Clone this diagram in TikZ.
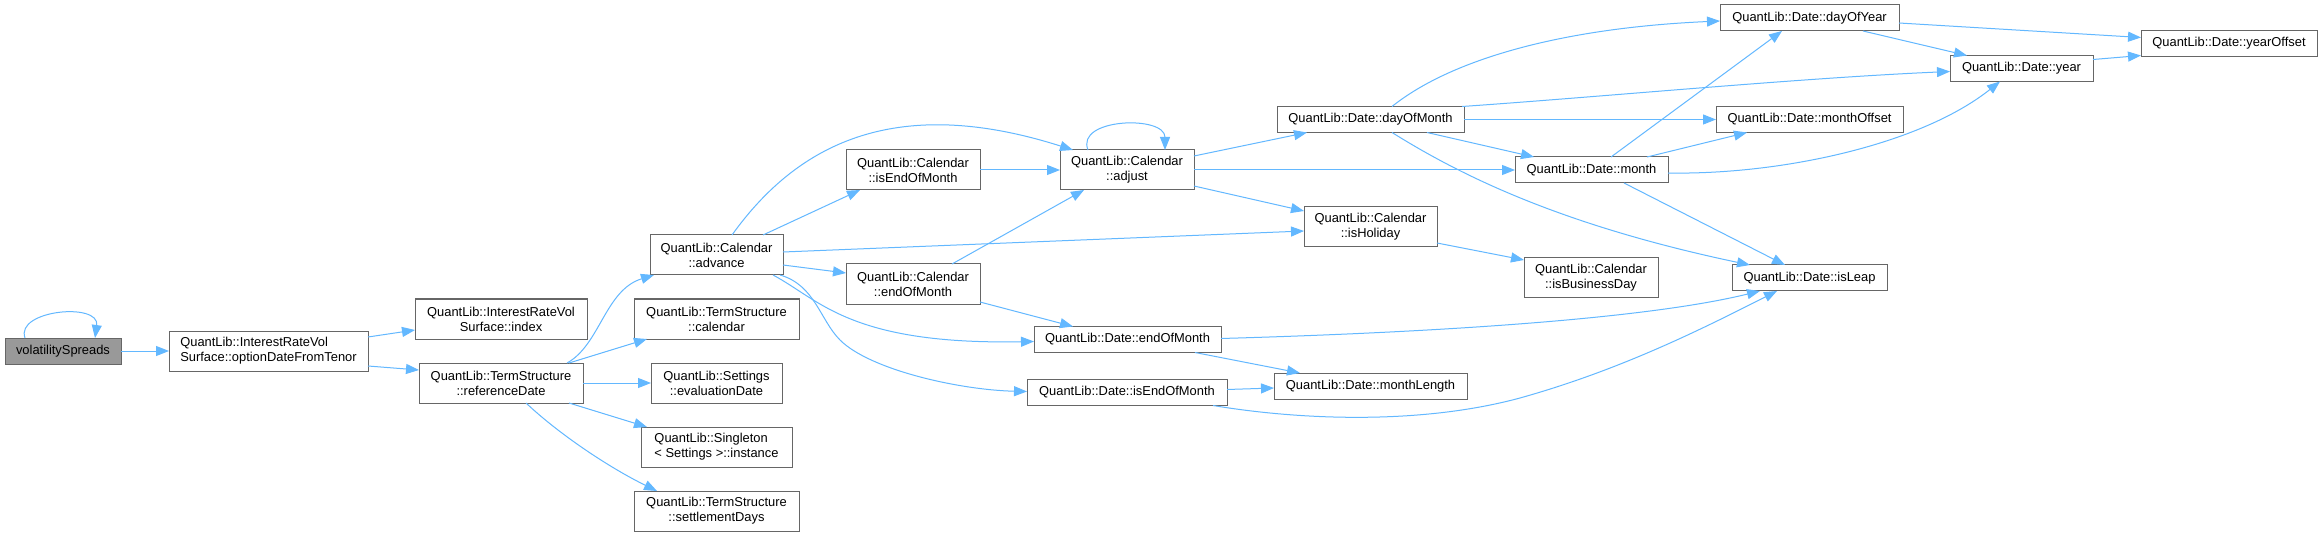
\documentclass[tikz,border=0pt]{standalone}
\usepackage{fontspec}
\setmainfont{Liberation Sans}
\usetikzlibrary{arrows.meta}
\definecolor{edgeblue}{HTML}{63B8FF}
\definecolor{boxgray}{HTML}{666666}
\definecolor{hlfill}{HTML}{999999}
\tikzset{
  box/.style={draw=boxgray, fill=white, line width=1pt, rectangle, inner sep=0pt, outer sep=0pt,
    align=center, font=\fontsize{12.9pt}{15pt}\selectfont},
  lbox/.style={box, align=left},
  hlbox/.style={box, fill=hlfill},
  one/.style={minimum height=26pt},
  two/.style={minimum height=40pt},
  edge/.style={draw=edgeblue, line width=1pt, -{Triangle[length=13pt,width=10pt]}, fill=none}
}
\begin{document}
\begin{tikzpicture}[x=1pt,y=-1pt]
\fill[white] (0,0) rectangle (2323,537);
\useasboundingbox (0,0) rectangle (2323,537);

% nodes
\node[hlbox, one, minimum width=116pt] (vs) at (63,351) {volatilitySpreads};
\node[lbox, two, minimum width=199pt] (opt) at (268.5,351) {QuantLib::InterestRateVol\\Surface::optionDateFromTenor};
\node[box, two, minimum width=172pt] (index) at (501,319) {QuantLib::InterestRateVol\\Surface::index};
\node[box, two, minimum width=164pt] (ref) at (501,383) {QuantLib::TermStructure\\::referenceDate};
\node[box, two, minimum width=133pt] (adv) at (716.5,255) {QuantLib::Calendar\\::advance};
\node[box, two, minimum width=165pt] (tscal) at (716.5,319) {QuantLib::TermStructure\\::calendar};
\node[box, two, minimum width=131pt] (eval) at (716.5,383) {QuantLib::Settings\\::evaluationDate};
\node[lbox, two, minimum width=151pt] (single) at (716.5,447) {QuantLib::Singleton\\< Settings >::instance};
\node[box, two, minimum width=165pt] (settle) at (716.5,511) {QuantLib::TermStructure\\::settlementDays};
\node[box, two, minimum width=134pt] (calIsEOM) at (913,170) {QuantLib::Calendar\\::isEndOfMonth};
\node[box, two, minimum width=134pt] (calEOM) at (913,284) {QuantLib::Calendar\\::endOfMonth};
\node[box, two, minimum width=134pt] (adjust) at (1127,170) {QuantLib::Calendar\\::adjust};
\node[box, one, minimum width=187pt] (dEOM) at (1127.5,339.5) {QuantLib::Date::endOfMonth};
\node[box, one, minimum width=200pt] (dIsEOM) at (1127,392.5) {QuantLib::Date::isEndOfMonth};
\node[box, one, minimum width=187pt] (dom) at (1370.5,119.5) {QuantLib::Date::dayOfMonth};
\node[box, two, minimum width=133pt] (isHol) at (1370.5,227) {QuantLib::Calendar\\::isHoliday};
\node[box, one, minimum width=193pt] (mlen) at (1370.5,386) {QuantLib::Date::monthLength};
\node[box, one, minimum width=153pt] (month) at (1591.5,170) {QuantLib::Date::month};
\node[box, two, minimum width=134pt] (isBD) at (1591,278) {QuantLib::Calendar\\::isBusinessDay};
\node[box, one, minimum width=179pt] (doy) at (1809.5,18) {QuantLib::Date::dayOfYear};
\node[box, one, minimum width=187pt] (moff) at (1809.5,119.5) {QuantLib::Date::monthOffset};
\node[box, one, minimum width=155pt] (isLeap) at (1809.5,278) {QuantLib::Date::isLeap};
\node[box, one, minimum width=143pt] (year) at (2021.5,68.5) {QuantLib::Date::year};
\node[box, one, minimum width=176pt] (yoff) at (2229,43.5) {QuantLib::Date::yearOffset};

% edges
\draw[edge] ([shift={(20,0)}]vs.north west) .. controls (15,310) and (100,302) .. ([shift={(90,0)}]vs.north west);
\draw[edge] (vs) -- (opt);
\draw[edge] ([shift={(0,6)}]opt.north east) -- ([shift={(0,31)}]index.north west);
\draw[edge] ([shift={(0,35)}]opt.north east) -- ([shift={(0,7)}]ref.north west);
\draw[edge] ([shift={(148,0)}]ref.north west) .. controls (600,345) and (605,290) .. ([shift={(4,0)}]adv.south west);
\draw[edge] ([shift={(-14,0)}]ref.north east) -- ([shift={(13,0)}]tscal.south west);
\draw[edge] (ref) -- (eval);
\draw[edge] ([shift={(-14,0)}]ref.south east) -- ([shift={(6,0)}]single.north west);
\draw[edge] ([shift={(107,0)}]ref.south west) .. controls (560,435) and (610,468) .. ([shift={(23,0)}]settle.north west);
\draw[edge] ([shift={(82,0)}]adv.north west) .. controls (800,140) and (900,95) .. ([shift={(13,0)}]adjust.north west);
\draw[edge] ([shift={(113,0)}]adv.north west) -- ([shift={(14,0)}]calIsEOM.south west);
\draw[edge] (calIsEOM) -- (adjust);
\draw[edge] ([shift={(0,17)}]adv.north east) -- ([shift={(0,24)}]isHol.north west);
\draw[edge] ([shift={(0,30)}]adv.north east) -- ([shift={(0,9)}]calEOM.north west);
\draw[edge] ([shift={(106,0)}]calEOM.north west) -- ([shift={(24,0)}]adjust.south west);
\draw[edge] ([shift={(0,-2)}]calEOM.south east) -- ([shift={(39,0)}]dEOM.north west);
\draw[edge] ([shift={(-10,0)}]adv.south east) .. controls (820,300) and (850,345) .. ([shift={(0,15)}]dEOM.north west);
\draw[edge] ([shift={(-3,0)}]adv.south east) .. controls (815,285) and (820,320) .. (840,340) .. controls (870,370) and (960,390) .. ([shift={(0,12)}]dIsEOM.north west);
\draw[edge] ([shift={(28,0)}]adjust.north west) .. controls (1075,118) and (1165,115) .. ([shift={(105,0)}]adjust.north west);
\draw[edge] ([shift={(0,6)}]adjust.north east) -- ([shift={(30,0)}]dom.south west);
\draw[edge] (adjust) -- (month);
\draw[edge] ([shift={(0,36)}]adjust.north east) -- ([shift={(0,4)}]isHol.north west);
\draw[edge] ([shift={(115,0)}]dom.north west) .. controls (1450,60) and (1560,28) .. ([shift={(0,16)}]doy.north west);
\draw[edge] ([shift={(-2,0)}]dom.north east) .. controls (1600,97) and (1800,78) .. ([shift={(0,16)}]year.north west);
\draw[edge] (dom) -- (moff);
\draw[edge] ([shift={(-37,0)}]dom.south east) -- ([shift={(19,0)}]month.north west);
\draw[edge] ([shift={(115,0)}]dom.south west) .. controls (1460,175) and (1560,225) .. ([shift={(18,0)}]isLeap.north west);
\draw[edge] ([shift={(96,0)}]month.north west) -- ([shift={(62,0)}]doy.south west);
\draw[edge] ([shift={(-21,0)}]month.north east) -- ([shift={(31,0)}]moff.south west);
\draw[edge] ([shift={(0,16)}]month.north east) .. controls (1780,175) and (1920,145) .. ([shift={(50,0)}]year.south west);
\draw[edge] ([shift={(109,0)}]month.south west) -- ([shift={(53,0)}]isLeap.north west);
\draw[edge] ([shift={(-36,0)}]doy.south east) -- ([shift={(17,0)}]year.north west);
\draw[edge] ([shift={(0,18)}]doy.north east) -- ([shift={(0,7)}]yoff.north west);
\draw[edge] ([shift={(0,4)}]year.north east) -- ([shift={(0,-1)}]yoff.south west);
\draw[edge] ([shift={(0,-4)}]isHol.south east) -- ([shift={(0,2)}]isBD.north west);
\draw[edge] ([shift={(0,12)}]dEOM.north east) .. controls (1450,332) and (1650,318) .. ([shift={(28,0)}]isLeap.south west);
\draw[edge] ([shift={(-26,0)}]dEOM.south east) -- ([shift={(26,0)}]mlen.north west);
\draw[edge] ([shift={(0,10)}]dIsEOM.north east) -- ([shift={(0,15)}]mlen.north west);
\draw[edge] ([shift={(-14,0)}]dIsEOM.south east) .. controls (1300,420) and (1420,425) .. (1520,398) .. controls (1620,370) and (1700,330) .. ([shift={(45,0)}]isLeap.south west);
\end{tikzpicture}
\end{document}
